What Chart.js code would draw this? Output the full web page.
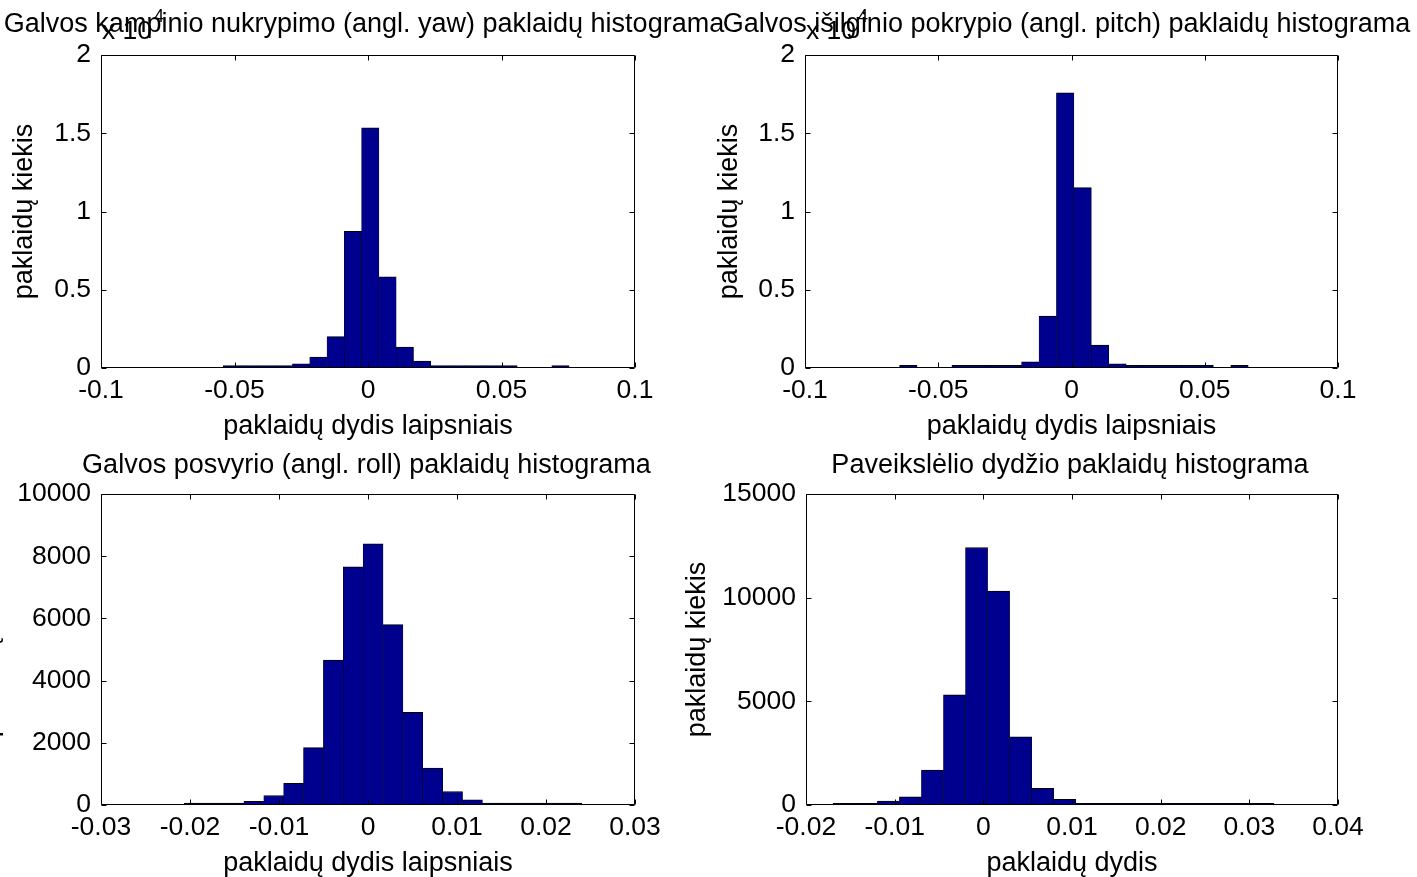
<!DOCTYPE html>
<html><head><meta charset="utf-8">
<script src="https://cdn.jsdelivr.net/npm/chart.js@4.4.1/dist/chart.umd.min.js"></script>
<style>
html,body{margin:0;padding:0;background:#fff;width:1417px;height:877px;overflow:hidden;position:relative}
canvas{position:absolute}
</style></head><body>
<canvas id="c1" width="740" height="440" style="left:0px;top:0px;width:740px;height:440px"></canvas>
<canvas id="c2" width="727" height="440" style="left:690px;top:0px;width:727px;height:440px"></canvas>
<canvas id="c3" width="754" height="437" style="left:-40px;top:440px;width:754px;height:437px"></canvas>
<canvas id="c4" width="754" height="437" style="left:663px;top:440px;width:754px;height:437px"></canvas>
<script>
// ---------- data ----------
const titles = [
  'Galvos kampinio nukrypimo (angl. yaw) paklaidų histograma',
  'Galvos išilginio pokrypio (angl. pitch) paklaidų histograma',
  'Galvos posvyrio (angl. roll) paklaidų histograma',
  'Paveikslėlio dydžio paklaidų histograma'
];
const xAxisLabels = ['paklaidų dydis laipsniais', 'paklaidų dydis laipsniais', 'paklaidų dydis laipsniais', 'paklaidų dydis'];
const yAxisLabel = 'paklaidų kiekis';

// subplot 1 (yaw)
const binCenters1 = [-0.05096,-0.04449,-0.03801,-0.03153,-0.02506,-0.01858,-0.01211,-0.00563,0.00085,0.00732,0.01380,0.02027,0.02675,0.03323,0.03970,0.04618,0.05265,0.05913,0.06561,0.07208];
const counts1 = [150,150,150,150,270,700,2000,8730,15350,5820,1340,450,150,150,150,150,150,0,0,150];
const xTicks1 = [-0.1,-0.05,0,0.05,0.1];
const xTickLabels1 = ['-0.1','-0.05','0','0.05','0.1'];
const yTicks1 = [0,5000,10000,15000,20000];
const yTickLabels1 = ['0','0.5','1','1.5','2'];

// subplot 2 (pitch)
const binCenters2 = [-0.06123,-0.05469,-0.04815,-0.04161,-0.03507,-0.02853,-0.02199,-0.01545,-0.00891,-0.00237,0.00417,0.01071,0.01725,0.02379,0.03033,0.03687,0.04341,0.04995,0.05649,0.06303];
const counts2 = [170,0,0,170,170,170,170,400,3310,17580,11530,1460,270,170,170,170,170,170,0,170];
const xTicks2 = [-0.1,-0.05,0,0.05,0.1];
const xTickLabels2 = ['-0.1','-0.05','0','0.05','0.1'];
const yTicks2 = [0,5000,10000,15000,20000];
const yTickLabels2 = ['0','0.5','1','1.5','2'];

// subplot 3 (roll)
const binCenters3 = [-0.019524,-0.017291,-0.015058,-0.012825,-0.010592,-0.008359,-0.006126,-0.003893,-0.001660,0.000573,0.002806,0.005039,0.007272,0.009505,0.011738,0.013971,0.016204,0.018437,0.020670,0.022903];
const counts3 = [60,60,60,115,305,700,1845,4660,7660,8400,5800,2980,1190,435,170,60,60,60,60,60];
const xTicks3 = [-0.03,-0.02,-0.01,0,0.01,0.02,0.03];
const xTickLabels3 = ['-0.03','-0.02','-0.01','0','0.01','0.02','0.03'];
const yTicks3 = [0,2000,4000,6000,8000,10000];
const yTickLabels3 = ['0','2000','4000','6000','8000','10000'];

// subplot 4 (image size)
const binCenters4 = [-0.015674,-0.013189,-0.010704,-0.008219,-0.005734,-0.003249,-0.000764,0.001721,0.004206,0.006691,0.009176,0.011661,0.014146,0.016631,0.019116,0.021601,0.024086,0.026571,0.029056,0.031541];
const counts4 = [80,80,195,400,1690,5310,12420,10320,3290,810,275,80,80,80,80,80,80,80,80,80];
const xTicks4 = [-0.02,-0.01,0,0.01,0.02,0.03,0.04];
const xTickLabels4 = ['-0.02','-0.01','0','0.01','0.02','0.03','0.04'];
const yTicks4 = [0,5000,10000,15000];
const yTickLabels4 = ['0','5000','10000','15000'];

const exponentBase = 'x 10';
const exponentPower = '4';

// ---------- styling ----------
const FONT = '"Liberation Sans", Arial, Helvetica, sans-serif';
const BAR_FILL = '#00008f';

const matlabFrame = {
  id: 'matlabFrame',
  afterDraw(chart, args, opts) {
    const {ctx, chartArea: a} = chart;
    const x = chart.scales.x, y = chart.scales.y;
    ctx.save();
    ctx.strokeStyle = '#000';
    ctx.lineWidth = 1;
    const L = Math.round(a.left) + 0.5, R = Math.round(a.right) - 0.5;
    const T = Math.round(a.top) + 0.5, B = Math.round(a.bottom) - 0.5;
    const tl = 5;
    ctx.beginPath();
    ctx.rect(L, T, R - L, B - T);
    x.ticks.forEach(t => {
      const px = Math.round(x.getPixelForValue(t.value)) + 0.5;
      ctx.moveTo(px, B); ctx.lineTo(px, B - tl);
      ctx.moveTo(px, T); ctx.lineTo(px, T + tl);
    });
    y.ticks.forEach(t => {
      const py = Math.round(y.getPixelForValue(t.value)) + 0.5;
      ctx.moveTo(L, py); ctx.lineTo(L + tl, py);
      ctx.moveTo(R, py); ctx.lineTo(R - tl, py);
    });
    ctx.stroke();
    ctx.fillStyle = '#000';
    ctx.textBaseline = 'alphabetic';
    ctx.textAlign = 'center';
    ctx.font = '27px ' + FONT;
    ctx.fillText(opts.text, (a.left + a.right) / 2 + opts.dx, a.top - opts.gap);
    if (opts.exponent) {
      ctx.textAlign = 'left';
      ctx.font = '26.5px ' + FONT;
      const ex = a.left + 1, ey = a.top - 16;
      ctx.fillText(exponentBase, ex, ey);
      const w = ctx.measureText(exponentBase).width;
      ctx.font = '18px ' + FONT;
      ctx.fillText(exponentPower, ex + w + 2, ey - 17);
    }
    ctx.restore();
  }
};

function makeHist(id, cfg) {
  const data = cfg.centers.map((c, i) => ({x: c, y: cfg.counts[i]}));
  return new Chart(document.getElementById(id), {
    type: 'bar',
    data: { datasets: [{
      data,
      backgroundColor: BAR_FILL,
      borderColor: '#000',
      borderWidth: {top: 1, left: 0.5, right: 0.5, bottom: 0},
      borderSkipped: false,
      categoryPercentage: 1.0,
      barPercentage: 1.0
    }]},
    plugins: [matlabFrame],
    options: {
      responsive: false,
      animation: false,
      devicePixelRatio: 1,
      layout: { padding: {left: 0, top: cfg.padTop, right: cfg.padRight, bottom: 0} },
      plugins: {
        legend: {display: false},
        tooltip: {enabled: false},
        title: {display: false},
        matlabFrame: {text: cfg.title, dx: cfg.titleDx, gap: cfg.titleGap, exponent: cfg.exponent}
      },
      scales: {
        x: {
          type: 'linear',
          min: cfg.xTicks[0], max: cfg.xTicks[cfg.xTicks.length - 1],
          offset: false,
          grid: {display: false, drawTicks: false},
          border: {display: false},
          afterBuildTicks: s => { s.ticks = cfg.xTicks.map(v => ({value: v})); },
          afterFit: s => { s.height = cfg.xAxisH; },
          ticks: {
            color: '#000', font: {family: FONT, size: 26.5}, padding: 7,
            autoSkip: false, maxRotation: 0, minRotation: 0,
            callback: (v, i) => cfg.xTickLabels[i]
          },
          title: {display: true, text: cfg.xLabel, color: '#000', font: {family: FONT, size: 27}, padding: {top: 0, bottom: -3}}
        },
        y: {
          type: 'linear',
          min: cfg.yTicks[0], max: cfg.yTicks[cfg.yTicks.length - 1],
          grid: {display: false, drawTicks: false},
          border: {display: false},
          afterBuildTicks: s => { s.ticks = cfg.yTicks.map(v => ({value: v})); },
          afterFit: s => { s.width = cfg.yAxisW; },
          ticks: {
            color: '#000', font: {family: FONT, size: 26.5}, padding: 10,
            autoSkip: false,
            callback: (v, i) => cfg.yTickLabels[i]
          },
          title: {display: true, text: yAxisLabel, color: '#000', font: {family: FONT, size: 27}, padding: {top: cfg.yTitlePad, bottom: 0}}
        }
      }
    }
  });
}

makeHist('c1', {centers: binCenters1, counts: counts1, xTicks: xTicks1, xTickLabels: xTickLabels1,
  yTicks: yTicks1, yTickLabels: yTickLabels1, title: titles[0], xLabel: xAxisLabels[0],
  padTop: 55, padRight: 105, yAxisW: 101, xAxisH: 72, yTitlePad: 8, titleDx: -4, titleGap: 23, exponent: true});
makeHist('c2', {centers: binCenters2, counts: counts2, xTicks: xTicks2, xTickLabels: xTickLabels2,
  yTicks: yTicks2, yTickLabels: yTickLabels2, title: titles[1], xLabel: xAxisLabels[1],
  padTop: 55, padRight: 79, yAxisW: 115, xAxisH: 72, yTitlePad: 23, titleDx: -5, titleGap: 23, exponent: true});
makeHist('c3', {centers: binCenters3, counts: counts3, xTicks: xTicks3, xTickLabels: xTickLabels3,
  yTicks: yTicks3, yTickLabels: yTickLabels3, title: titles[2], xLabel: xAxisLabels[2],
  padTop: 54, padRight: 79, yAxisW: 141, xAxisH: 72, yTitlePad: 13, titleDx: -1.5, titleGap: 21.5, exponent: false});
makeHist('c4', {centers: binCenters4, counts: counts4, xTicks: xTicks4, xTickLabels: xTickLabels4,
  yTicks: yTicks4, yTickLabels: yTickLabels4, title: titles[3], xLabel: xAxisLabels[3],
  padTop: 54, padRight: 79, yAxisW: 143, xAxisH: 72, yTitlePad: 18, titleDx: -2, titleGap: 21.5, exponent: false});
</script>
</body></html>
